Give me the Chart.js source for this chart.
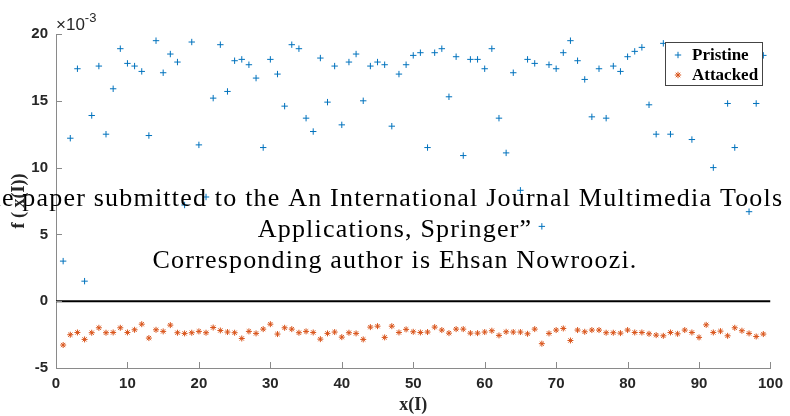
<!DOCTYPE html>
<html>
<head>
<meta charset="utf-8">
<script src="https://cdn.jsdelivr.net/npm/chart.js@4.4.0/dist/chart.umd.min.js"></script>
<style>
  html, body { margin: 0; padding: 0; background: #fff; }
  canvas { display: block; }
</style>
</head>
<body>
<canvas id="scatterChart" width="790" height="416"></canvas>
<script>
// sample index I
const xIndex = [1, 2, 3, 4, 5, 6, 7, 8, 9, 10, 11, 12, 13, 14, 15, 16, 17, 18, 19, 20,
    21, 22, 23, 24, 25, 26, 27, 28, 29, 30, 31, 32, 33, 34, 35, 36, 37, 38, 39, 40,
    41, 42, 43, 44, 45, 46, 47, 48, 49, 50, 51, 52, 53, 54, 55, 56, 57, 58, 59, 60,
    61, 62, 63, 64, 65, 66, 67, 68, 69, 70, 71, 72, 73, 74, 75, 76, 77, 78, 79, 80,
    81, 82, 83, 84, 85, 86, 87, 88, 89, 90, 91, 92, 93, 94, 95, 96, 97, 98, 99];

// f(x(I)) values, in units of 10^-3
const pristine = [3.0, 12.2, 17.4, 1.5, 13.9, 17.6, 12.5, 15.9, 18.9, 17.8,
    17.6, 17.2, 12.4, 19.5, 17.1, 18.5, 17.9, 7.2, 19.4, 11.7,
    7.8, 15.2, 19.2, 15.7, 18.0, 18.1, 17.7, 16.7, 11.5, 18.1,
    17.0, 14.6, 19.2, 18.9, 13.7, 12.7, 18.2, 14.9, 17.6, 13.2,
    17.9, 18.5, 15.0, 17.6, 17.9, 17.7, 13.1, 17.0, 17.7, 18.4,
    18.6, 11.5, 18.6, 18.9, 15.3, 18.3, 10.9, 18.1, 18.1, 17.4,
    18.9, 13.7, 11.1, 17.1, 8.3, 18.1, 17.8, 5.6, 17.7, 17.4,
    18.6, 19.5, 18.0, 16.6, 13.8, 17.4, 13.7, 17.6, 17.2, 18.3,
    18.7, 19.0, 14.7, 12.5, 19.3, 12.5, 18.0, 17.4, 12.1, 18.6,
    17.0, 10.0, 18.2, 14.8, 11.5, 17.8, 6.7, 14.8, 18.4];

const attacked = [-3.28, -2.51, -2.34, -2.86, -2.36, -1.99, -2.36, -2.34, -1.99, -2.34,
    -2.14, -1.72, -2.76, -2.14, -2.26, -1.79, -2.36, -2.41, -2.36, -2.26,
    -2.36, -1.97, -2.19, -2.31, -2.36, -2.79, -2.26, -2.41, -2.09, -1.72,
    -2.46, -1.99, -2.09, -2.36, -2.26, -2.34, -2.84, -2.41, -2.31, -2.69,
    -2.36, -2.41, -2.86, -1.94, -1.87, -2.71, -1.87, -2.34, -2.11, -2.29,
    -2.34, -2.31, -1.94, -2.16, -2.39, -2.09, -2.09, -2.39, -2.39, -2.31,
    -2.21, -2.56, -2.29, -2.31, -2.31, -2.44, -2.09, -3.18, -2.41, -2.16,
    -2.04, -2.94, -2.16, -2.29, -2.16, -2.16, -2.36, -2.36, -2.39, -2.16,
    -2.34, -2.34, -2.44, -2.54, -2.59, -2.34, -2.44, -2.16, -2.34, -2.71,
    -1.77, -2.34, -2.24, -2.59, -1.99, -2.21, -2.41, -2.64, -2.46];

const zeroLineX = [0, 100];
const zeroLineY = [0, 0];

const xTicks = [0, 10, 20, 30, 40, 50, 60, 70, 80, 90, 100];
const yTicks = [-5, 0, 5, 10, 15, 20];

const overlayLines = [
    '\u201CThe paper submitted to the An International Journal Multimedia Tools and',
    'Applications, Springer\u201D',
    'Corresponding author is Ehsan Nowroozi.'
];

const blue = 'rgb(0, 114, 189)';
const orange = 'rgb(217, 83, 25)';
const axisGrey = '#8a8a8a';

const toPoints = (xs, ys) => xs.map((x, i) => ({ x: x, y: ys[i] }));

// ticks pointing inward, legend box, exponent and the overlay note
const extras = {
    id: 'extras',
    afterDraw(chart) {
        const ctx = chart.ctx;
        const xs = chart.scales.x, ys = chart.scales.y;
        const area = chart.chartArea;
        ctx.save();

        ctx.strokeStyle = axisGrey;
        ctx.lineWidth = 1;
        ctx.beginPath();
        xTicks.forEach(v => {
            const px = Math.round(xs.getPixelForValue(v)) + 0.5;
            ctx.moveTo(px, area.bottom);
            ctx.lineTo(px, area.bottom - 6);
        });
        yTicks.forEach(v => {
            const py = Math.round(ys.getPixelForValue(v)) + 0.5;
            ctx.moveTo(area.left, py);
            ctx.lineTo(area.left + 6, py);
        });
        ctx.stroke();

        // x10^-3
        ctx.fillStyle = '#262626';
        ctx.textBaseline = 'alphabetic';
        ctx.textAlign = 'left';
        ctx.font = '17px "Liberation Sans"';
        ctx.fillText('\u00D710', area.left, 30);
        const w10 = ctx.measureText('\u00D710').width;
        ctx.font = '13px "Liberation Sans"';
        ctx.fillText('-3', area.left + w10, 22);

        // legend
        const lx = 665.5, ly = 42.5, lw = 97, lh = 43;
        ctx.fillStyle = '#fff';
        ctx.fillRect(lx, ly, lw, lh);
        ctx.strokeStyle = '#444';
        ctx.strokeRect(lx, ly, lw, lh);
        const entries = [
            { text: 'Pristine', style: 'cross', color: blue, y: 55 },
            { text: 'Attacked', style: 'star', color: orange, y: 75 }
        ];
        entries.forEach(e => {
            ctx.strokeStyle = e.color;
            ctx.fillStyle = e.color;
            ctx.lineWidth = 1;
            Chart.helpers.drawPoint(ctx, { pointStyle: e.style, radius: 3.2, borderWidth: 1, rotation: 0 }, 678, e.y);
            ctx.fillStyle = '#000';
            ctx.font = 'bold 17px "Liberation Serif"';
            ctx.textBaseline = 'middle';
            ctx.fillText(e.text, 692, e.y + 1);
        });

        // overlay note
        ctx.fillStyle = '#000';
        ctx.textAlign = 'center';
        ctx.textBaseline = 'alphabetic';
        ctx.font = '26px "Liberation Serif"';
        const target = 484;
        const w3 = ctx.measureText(overlayLines[2]).width;
        const gap = Math.max(0, (target - w3) / (overlayLines[2].length - 1));
        ctx.letterSpacing = gap.toFixed(2) + 'px';
        const baselines = [206, 237, 268];
        overlayLines.forEach((t, i) => ctx.fillText(t, 395, baselines[i]));
        ctx.letterSpacing = '0px';

        ctx.restore();
    }
};

Chart.defaults.color = '#262626';

new Chart(document.getElementById('scatterChart'), {
    type: 'scatter',
    data: {
        datasets: [
            {
                label: 'Pristine',
                data: toPoints(xIndex, pristine),
                pointStyle: 'cross',
                pointRadius: 3.2,
                borderWidth: 1,
                borderColor: blue,
                backgroundColor: blue
            },
            {
                label: 'Attacked',
                data: toPoints(xIndex, attacked),
                pointStyle: 'star',
                pointRadius: 3,
                borderWidth: 1,
                borderColor: orange,
                backgroundColor: orange
            },
            {
                type: 'line',
                label: 'zero',
                data: toPoints(zeroLineX, zeroLineY),
                borderColor: '#000',
                borderWidth: 2,
                pointRadius: 0
            }
        ]
    },
    options: {
        responsive: false,
        animation: false,
        events: [],
        layout: { padding: { top: 34, right: 17, bottom: 0, left: 0 } },
        plugins: {
            legend: { display: false },
            tooltip: { enabled: false }
        },
        scales: {
            x: {
                type: 'linear',
                min: 0,
                max: 100,
                afterFit: s => { s.height = 48; },
                afterBuildTicks: s => { s.ticks = xTicks.map(v => ({ value: v })); },
                grid: { drawOnChartArea: false, drawTicks: false },
                border: { color: axisGrey, width: 1 },
                ticks: { padding: 7, font: { family: 'Liberation Sans', size: 15, weight: 'bold' }, maxRotation: 0 },
                title: {
                    display: true,
                    text: 'x(I)',
                    font: { family: 'Liberation Serif', size: 18, weight: 'bold' },
                    padding: { top: 0, bottom: 0 }
                }
            },
            y: {
                min: -5,
                max: 20,
                afterFit: s => { s.width = 56; },
                afterBuildTicks: s => { s.ticks = yTicks.map(v => ({ value: v })); },
                grid: { drawOnChartArea: false, drawTicks: false },
                border: { color: axisGrey, width: 1 },
                ticks: { padding: 8, font: { family: 'Liberation Sans', size: 15, weight: 'bold' } },
                title: {
                    display: true,
                    text: 'f ( x(I))',
                    font: { family: 'Liberation Serif', size: 18, weight: 'bold' },
                    padding: { top: 9, bottom: 0 }
                }
            }
        }
    },
    plugins: [extras]
});
</script>
</body>
</html>
